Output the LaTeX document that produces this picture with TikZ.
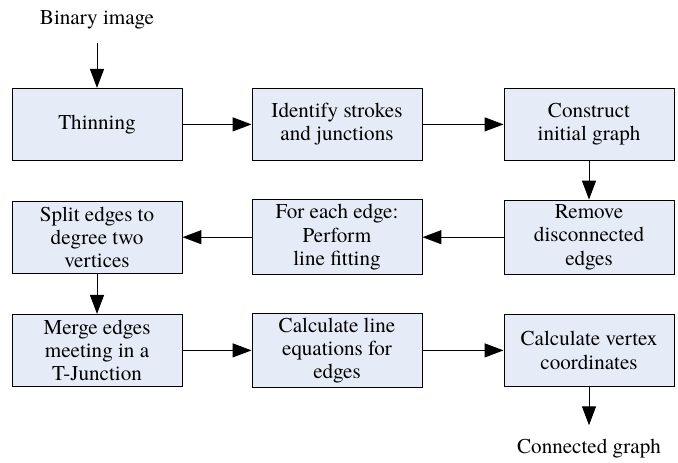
\documentclass[tikz,border=0pt]{standalone}
\usepackage{fontspec}
\newfontfamily\timesfont{texgyretermes-regular.otf}
\usetikzlibrary{arrows.meta}
\definecolor{boxfill}{RGB}{230,236,247}

\begin{document}
\begin{tikzpicture}[
  stage/.style={draw, fill=boxfill, line width=0.7pt, minimum width=4.25cm,
    minimum height=1.8cm, align=center, font=\timesfont\fontsize{15}{16.5}\selectfont},
  term/.style={inner sep=0pt, outer sep=10pt, font=\timesfont\fontsize{15}{16.5}\selectfont},
  flow/.style={line width=0.7pt, -{Triangle[length=13.5pt,width=10pt]}}]
  \useasboundingbox (0,0) rectangle (16.95,11.55);
  % Row 1
  \node[term] (input) at (2.425,11.05) {Binary image};
  \node[stage] (thin) at (2.425,8.44) {Thinning};
  \node[stage] (ident) at (8.425,8.44) {Identify strokes\\and junctions};
  \node[stage] (build) at (14.725,8.44) {Construct\\initial graph};
  % Row 2
  \node[stage] (remove) at (14.725,5.62) {Remove\\disconnected\\edges};
  \node[stage] (fit) at (8.425,5.62) {For each edge:\\Perform\\line fitting};
  \node[stage] (split) at (2.425,5.62) {Split edges to\\degree two\\vertices};
  % Row 3
  \node[stage] (merge) at (2.425,2.79) {Merge edges\\meeting in a\\T-Junction};
  \node[stage] (lineq) at (8.425,2.79) {Calculate line\\equations for\\edges};
  \node[stage] (vertex) at (14.725,2.79) {Calculate vertex\\coordinates};
  \node[term] (output) at (14.725,0.33) {Connected graph};
  % Arrows
  \draw[flow] (input) -- (thin);
  \draw[flow] (thin) -- (ident);
  \draw[flow] (ident) -- (build);
  \draw[flow] (build) -- (remove);
  \draw[flow] (remove) -- (fit);
  \draw[flow] (fit) -- (split);
  \draw[flow] (split) -- (merge);
  \draw[flow] (merge) -- (lineq);
  \draw[flow] (lineq) -- (vertex);
  \draw[flow] (vertex) -- (output);
\end{tikzpicture}
\end{document}
